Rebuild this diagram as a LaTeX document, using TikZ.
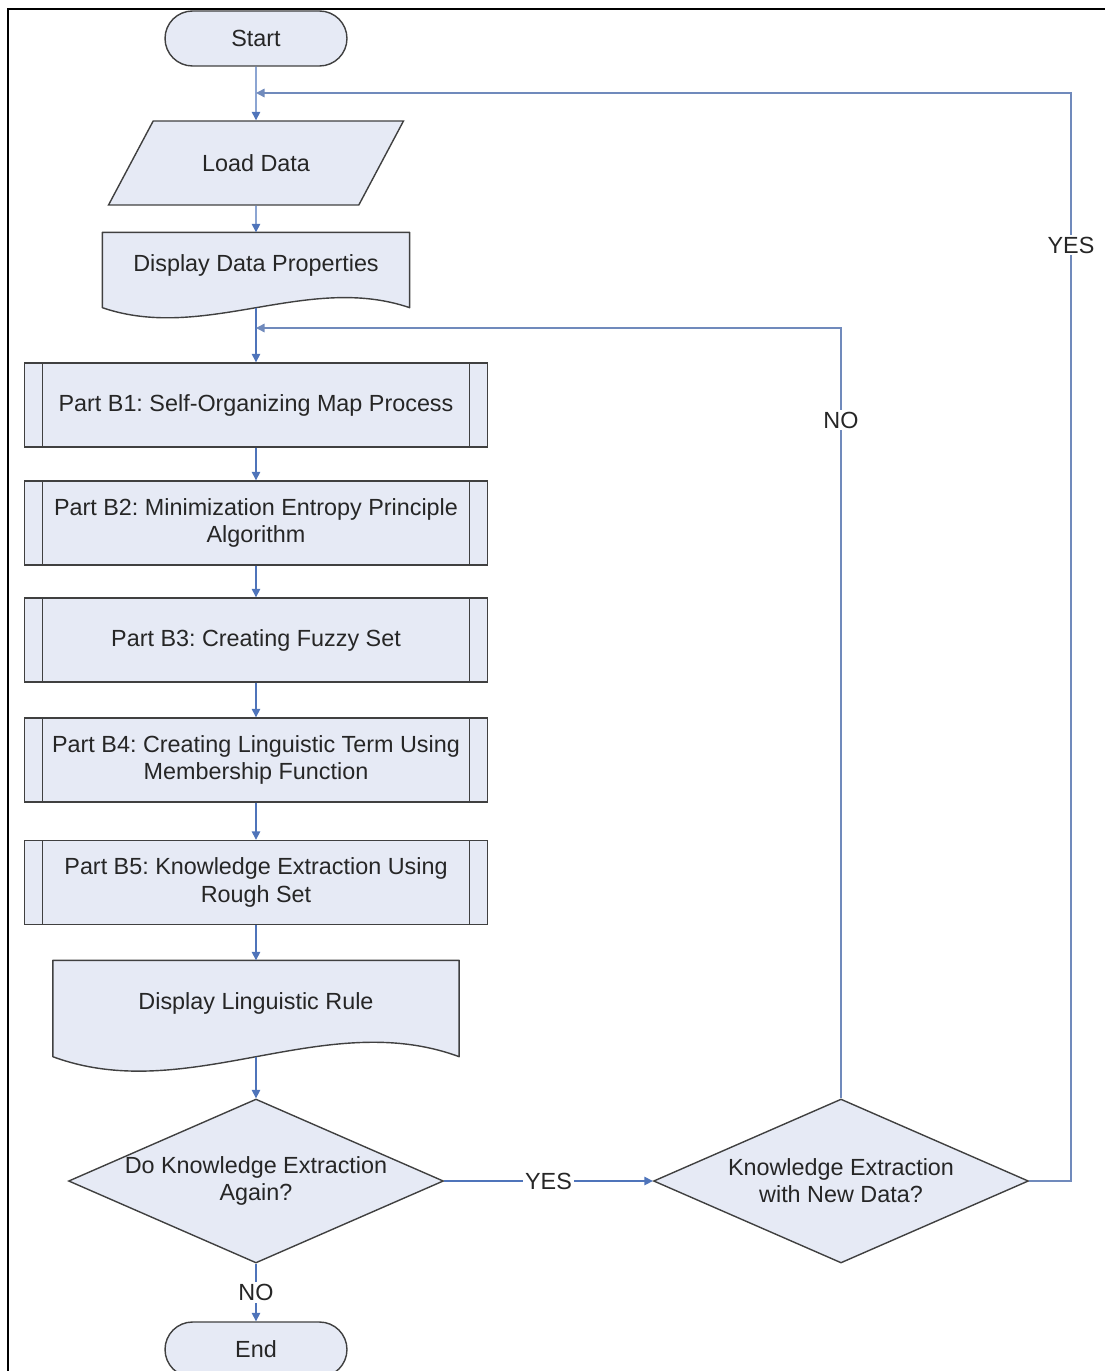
\documentclass[tikz,border=0pt]{standalone}
\usepackage{fontspec}
\setmainfont{Liberation Sans}
\frenchspacing
\usetikzlibrary{calc,arrows.meta,shapes.geometric,positioning,backgrounds}
\definecolor{boxfill}{RGB}{230,234,245}
\definecolor{boxedge}{RGB}{64,64,64}
\definecolor{flowblue}{RGB}{79,116,186}
\definecolor{loopblue}{RGB}{112,138,188}
\tikzset{
    box/.style={
    draw=boxedge,fill=boxfill,line width=0.8pt,text=black!85,align=center,
    font=\fontsize{13.3}{15.5}\selectfont
    },
    terminal/.style={
    box,rectangle,rounded corners=0.55cm,minimum width=3.64cm,minimum height=1.1cm
    },
    io/.style={
    box,trapezium,trapezium left angle=62,trapezium right angle=118,
    trapezium stretches body=true,minimum width=5.9cm,
    text height=9.6pt,text depth=0pt,inner xsep=0pt,inner ysep=19.1pt
    },
    document/.style={
    box,rectangle,draw=none,fill=none,minimum width=6.12cm,minimum height=1.48cm,
    text height=9.6pt,text depth=8pt
    },
    subproc/.style={
    box,rectangle,minimum width=9.26cm,minimum height=1.68cm,inner sep=0pt,
    path picture={
      \draw[boxedge,line width=0.8pt]
        ([xshift=0.36cm]path picture bounding box.north west) -- ([xshift=0.36cm]path picture bounding box.south west)
        ([xshift=-0.36cm]path picture bounding box.north east) -- ([xshift=-0.36cm]path picture bounding box.south east);
    }
    },
    decision/.style={
    box,diamond,aspect=2.29,inner sep=0pt,minimum width=7.5cm,minimum height=3.28cm
    },
    flow/.style={
    draw=flowblue,line width=0.8pt,-{Triangle[length=0.17cm,width=0.17cm]}
    },
    back/.style={
    flow,draw=loopblue
    },
    answer/.style={
    fill=white,inner sep=1pt,text=black!85,font=\fontsize{13.3}{15.5}\selectfont
    },
}
% outline of a document box: top, sides and a wavy bottom edge
\newcommand{\docshape}[2]{%
  \begin{pgfonlayer}{background}
    \filldraw[draw=boxedge,fill=boxfill,line width=0.8pt,line join=round]
      (#1.north west) -- (#1.north east) -- (#1.south east)
      .. controls ($(#1.south east)!0.333!(#1.south west)+(0,-#2)$)
         and ($(#1.south east)!0.667!(#1.south west)+(0,#2)$) .. (#1.south west) -- cycle;
  \end{pgfonlayer}}

\begin{document}
\begin{tikzpicture}[x=0.02cm, y=-0.02cm]
  \useasboundingbox (0,0) rectangle (1105,1371);
  \draw[line width=1.2pt] (8,1371) -- (8,9) -- (1105,9);

  \node[terminal] (start) at (256,38.5) {Start};
  \node[io] (load) at (256,163) {Load Data};
  \node[document] (props) at (256,270) {Display Data Properties};
  \node[subproc] (b1) at (256,405) {Part B1: Self-Organizing Map Process};
  \node[subproc] (b2) at (256,523) {Part B2: Minimization Entropy Principle\\Algorithm};
  \node[subproc] (b3) at (256,640) {Part B3: Creating Fuzzy Set};
  \node[subproc] (b4) at (256,760) {Part B4: Creating Linguistic Term Using\\Membership Function};
  \node[subproc] (b5) at (256,882.5) {Part B5: Knowledge Extraction Using\\Rough Set};
  \node[document,minimum width=8.1cm,minimum height=1.9cm] (rule) at (256,1008.5) {Display Linguistic Rule};
  \node[decision] (again) at (256,1181) {Do Knowledge Extraction\\Again?};
  \node[decision] (newdata) at (841,1181) {Knowledge Extraction\\with New Data?};
  \node[terminal] (end) at (256,1349.5) {End};

  \docshape{props}{35}
  \docshape{rule}{50}

  \coordinate (top) at (256,93);
  \coordinate (mid) at (256,328);
  \coordinate (far) at (1071,93);

  \draw[flow] (start) -- (load);
  \draw[flow] (load) -- (props);
  \draw[flow] (props.south) -- (b1);
  \draw[flow] (b1) -- (b2);
  \draw[flow] (b2) -- (b3);
  \draw[flow] (b3) -- (b4);
  \draw[flow] (b4) -- (b5);
  \draw[flow] (b5) -- (rule);
  \draw[flow] (rule.south) -- (again);
  \draw[flow] (again) -- node[answer] {YES} (newdata);
  \draw[flow] (again) -- node[answer] {NO} (end);
  \draw[back] (newdata.north) |- node[answer,pos=0.44] {NO} (mid);
  \draw[back] (newdata.east) -| node[answer,pos=0.93] {YES} (far) -- (top);
\end{tikzpicture}
\end{document}
